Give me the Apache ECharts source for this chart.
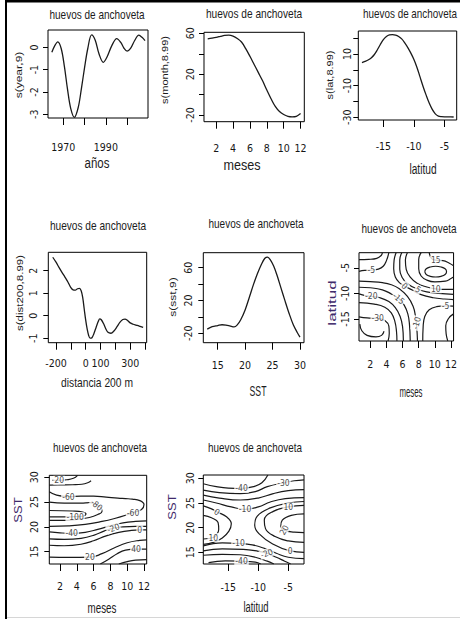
<!DOCTYPE html>
<html>
<head>
<meta charset="utf-8">
<script src="https://cdn.jsdelivr.net/npm/echarts@6/dist/echarts.min.js"></script>
<style>
  html, body { margin: 0; padding: 0; background: #fff; }
  #chart { width: 460px; height: 619px; }
</style>
</head>
<body>
<div id="chart"></div>
<script>
// ---------- smooth terms (GAM partial effects) ----------
const anios = [1964.6,1966,1967.4,1969,1970.5,1972,1973.5,1975.2,1977,1978.5,1980,1981.5,1983.3,1985,1986.8,1988.8,1990.6,1992.8,1995.1,1997,1998.6,2000,2001.6,2003.6,2005.5,2007,2008.4];
const sYear = [-0.22,0.08,0.25,-0.05,-0.85,-1.9,-2.75,-3.14,-2.7,-1.85,-0.9,-0.05,0.56,0.32,-0.3,-0.67,-0.42,0.08,0.39,0.22,-0.05,-0.17,-0.05,0.32,0.55,0.45,0.30];

const meses = [1,1.5,2,2.5,3,3.5,4,4.5,5,5.5,6,6.5,7,7.5,8,8.5,9,9.5,10,10.5,11,11.5,12];
const sMonth = [54.5,55.2,56,57,58,58.2,57.3,55,51.5,45,37.5,29.5,21.5,13.5,4.5,-4,-11.5,-16.5,-19.5,-21.2,-21.7,-21.2,-18.5];

const latitud = [-18.5,-18,-17.5,-17,-16.5,-16,-15.5,-15,-14.5,-14,-13.5,-13,-12.5,-12,-11.5,-11,-10.5,-10,-9.5,-9,-8.5,-8,-7.5,-7,-6.5,-6,-5.5,-5,-4.5,-4,-3.5];
const sLat = [4.5,5.3,6.2,7.5,9.5,12.5,16,19,21,22,22.2,21.9,21,19.5,17,14,10.5,6.5,1.5,-4.5,-10.5,-16,-21,-25,-27.8,-29.2,-29.6,-29.7,-29.7,-29.7,-29.8];

const dist200 = [-222,-200,-180,-160,-140,-120,-100,-85,-70,-55,-42,-30,-20,-10,0,10,20,30,42,55,70,85,95,105,120,135,150,170,190,210,230,250,265,280,300,320,340,360,387];
const sDist = [2.6,2.38,2.15,1.93,1.72,1.5,1.25,1.15,1.14,1.2,1.22,1.1,0.8,0.3,-0.2,-0.6,-0.88,-1.0,-0.98,-0.8,-0.52,-0.25,-0.14,-0.18,-0.35,-0.58,-0.74,-0.78,-0.68,-0.5,-0.3,-0.17,-0.15,-0.2,-0.32,-0.38,-0.42,-0.46,-0.52];

const sst = [13.1,14,15,15.8,16.5,17.2,18,18.6,19.2,20,20.8,21.5,22.2,23,23.6,24.1,24.6,25.2,25.8,26.5,27.2,28,28.8,29.5,30];
const sSst = [-15,-12,-10.6,-9.6,-10,-11,-12.3,-9.5,-3.5,8.5,24.5,39,52,64.5,71.5,73,69.5,62,51,36,21,4.5,-10,-19,-24.6];

// ---------- contour lines of the 2-D terms: level, path, label spots [x, y, angle] ----------
const contMesLat = [
  { lv: 0,   pts: [[0.6,-3.4],[1.8,-3.35],[2.8,-3.15],[3.35,-2.6],[3.5,-2.05]], lab: [] },
  { lv: -5,  pts: [[0.6,-5.7],[1.3,-5.5],[2.12,-5.45],[3.0,-5.25],[3.6,-4.7],[4.0,-3.6],[4.3,-2.05]], lab: [[2.12,-5.45,0]] },
  { lv: -10, pts: [[0.6,-7.6],[2.0,-7.7],[3.5,-7.9],[4.6,-8.3],[5.6,-9.1],[6.6,-10.6],[7.3,-12.5],[7.6,-14.5],[7.75,-16.5],[7.85,-19.3]], lab: [[7.72,-15.8,75]] },
  { lv: -15, pts: [[0.6,-8.8],[2.0,-8.9],[3.5,-9.3],[4.6,-10.1],[5.52,-11.0],[6.2,-12.3],[6.65,-14],[6.85,-16],[6.95,-19.3]], lab: [[5.52,-11.0,-40]] },
  { lv: -20, pts: [[0.6,-10.1],[1.4,-10.45],[2.12,-10.6],[3.2,-10.85],[4.3,-11.6],[5.1,-12.8],[5.7,-14.5],[6.0,-16.5],[6.1,-19.3]], lab: [[2.12,-10.6,0]] },
  { lv: -25, pts: [[0.6,-11.8],[2.5,-12.1],[3.8,-12.7],[4.6,-13.8],[5.05,-15.5],[5.25,-17.5],[5.3,-19.3]], lab: [] },
  { lv: -30, pts: [[0.6,-14.6],[1.6,-14.8],[2.92,-14.87],[3.8,-15.3],[4.3,-16.4],[4.35,-17.8],[4.2,-19.3]], lab: [[2.92,-14.87,0]] },
  { lv: -35, pts: [[0.7,-16.0],[0.95,-17.3],[1.6,-18.2],[2.7,-18.5],[3.4,-18.2],[3.7,-17.4]], lab: [] },
  { lv: 0,   pts: [[5.2,-2.05],[4.95,-3.5],[4.9,-5.2],[5.1,-6.8],[5.6,-7.9],[6.24,-8.55],[7.2,-9.35],[8.3,-10.25],[9.8,-10.85],[11.2,-11.1],[12.32,-11.2]], lab: [[6.24,-8.55,-45]] },
  { lv: 5,   pts: [[5.9,-2.05],[5.65,-3.5],[5.65,-5.3],[5.95,-6.9],[6.6,-8.1],[7.92,-9.2],[9.0,-9.7],[10.5,-10.0],[12.32,-10.2]], lab: [[7.92,-9.2,-30]] },
  { lv: 10,  pts: [[6.6,-2.05],[6.35,-3.5],[6.45,-5.3],[6.95,-6.8],[7.8,-8.0],[8.9,-8.7],[10.12,-9.1],[11.2,-9.2],[12.32,-9.2]], lab: [[10.12,-9.1,0]] },
  { lv: 15,  pts: [[8.3,-2.05],[8.0,-3.4],[8.0,-5.2],[8.3,-6.6],[9.0,-7.4],[10,-7.75],[11.3,-7.6],[12.0,-7.1],[12.32,-6.8]], lab: [] },
  { lv: 15,  pts: [[9.3,-2.05],[9.6,-3.2],[10.12,-3.5],[11.0,-3.6],[11.8,-4.1],[12.32,-4.6]], lab: [[10.12,-3.5,0]] },
  { lv: 20,  pts: [[8.75,-5.75],[8.93,-5.2],[9.43,-4.84],[10.1,-4.7],[10.77,-4.84],[11.27,-5.2],[11.45,-5.75],[11.27,-6.3],[10.77,-6.66],[10.1,-6.8],[9.43,-6.66],[8.93,-6.3],[8.75,-5.75]], lab: [] },
  { lv: -5,  pts: [[12.32,-12.5],[11.32,-12.45],[10.2,-12.6],[9.3,-13.2],[8.75,-14.5],[8.55,-16.5],[8.5,-19.3]], lab: [[11.32,-12.45,0]] },
  { lv: -10, pts: [[12.32,-14.0],[11.7,-14.9],[11.35,-16.3],[11.4,-17.9],[11.6,-19.3]], lab: [] }
];

const contMesSst = [
  { lv: 20,   pts: [[1.1,29.4],[1.9,29.4],[2.8,29.5],[3.6,29.8],[4.1,30.4]], lab: [[1.9,29.4,0]] },
  { lv: -40,  pts: [[0.73,28.4],[2.0,28.45],[3.5,28.5],[4.6,28.6],[5.3,28.9],[5.7,29.3]], lab: [] },
  { lv: -60,  pts: [[0.73,27.1],[1.6,26.4],[3.0,26.1],[4.5,26.2],[6.0,26.2],[7.5,26.0],[8.9,25.8],[9.8,25.7],[10.6,25.6],[11.5,25.3],[12.0,24.5],[11.7,23.5],[10.7,22.9],[9.9,22.4],[8.5,21.7],[7.0,21.1],[5.0,20.5],[3.0,20.2],[0.73,20.1]], lab: [[3.0,26.1,0],[10.7,22.9,0]] },
  { lv: -80,  pts: [[0.73,25.0],[2.5,24.8],[4.5,24.8],[5.6,24.9],[6.37,24.4],[6.9,23.8],[7.0,23.1],[6.5,22.5],[5.5,21.9],[4.0,21.5],[2.0,21.3],[0.73,21.3]], lab: [[6.37,24.4,-40]] },
  { lv: -100, pts: [[0.73,22.0],[2.5,22.0],[3.8,22.05],[4.8,22.2],[5.1,22.6],[4.7,23.0],[3.5,23.2],[0.73,23.3]], lab: [[3.8,22.05,0]] },
  { lv: -40,  pts: [[0.73,19.0],[2.0,18.8],[3.4,18.7],[5.0,18.9],[6.5,19.5],[8.0,20.2],[9.5,20.8],[11.0,21.1],[12.32,21.2]], lab: [[3.4,18.7,0]] },
  { lv: -20,  pts: [[0.73,17.6],[2.5,17.5],[4.5,17.7],[6.0,18.3],[7.3,19.2],[8.35,19.75],[9.5,20.0],[11.0,20.1],[12.32,20.1]], lab: [[8.35,19.75,20]] },
  { lv: 0,    pts: [[0.73,16.3],[2.5,16.2],[4.5,16.5],[6.0,17.2],[7.5,18.2],[9.0,18.9],[10.5,19.3],[11.5,19.4],[12.32,19.4]], lab: [[11.5,19.4,0]] },
  { lv: 20,   pts: [[0.73,13.9],[3.0,13.85],[5.57,13.9],[7.0,14.6],[8.5,15.8],[10.0,16.8],[11.5,17.3],[12.32,17.4]], lab: [[5.57,13.9,0]] },
  { lv: 40,   pts: [[6.8,12.52],[7.8,13.5],[8.8,14.6],[9.8,15.3],[11.05,15.5],[12.32,15.5]], lab: [[11.05,15.5,0]] },
  { lv: 60,   pts: [[9.0,12.52],[10.0,13.0],[11.0,13.3],[12.32,13.4]], lab: [] }
];

const contLatSst = [
  { lv: -40, pts: [[-19.17,28.9],[-17,28.3],[-15,28.0],[-12.8,27.95],[-10.8,28.3],[-9.4,29.1],[-8.4,30.67]], lab: [[-12.8,27.95,0]] },
  { lv: -30, pts: [[-19.17,27.6],[-16.5,27.1],[-13,26.9],[-10.5,27.3],[-8.5,28.3],[-5.8,29.1],[-4,29.5],[-2.38,29.7]], lab: [[-5.8,29.1,0]] },
  { lv: -20, pts: [[-19.17,26.6],[-16.5,26.0],[-13,25.6],[-10,26.0],[-7.5,26.9],[-5,27.5],[-2.38,27.7]], lab: [] },
  { lv: -10, pts: [[-19.17,25.6],[-17,25.0],[-14.5,24.2],[-12.2,23.7],[-10,24.2],[-8,25.2],[-5.5,25.9],[-2.38,26.1]], lab: [[-12.2,23.7,0]] },
  { lv: 0,   pts: [[-19.17,24.4],[-17.8,23.8],[-16.9,23.2],[-15.3,22.2],[-14.5,20.8],[-14.9,19.3],[-16,17.9],[-17.5,17.0],[-19.17,16.6]], lab: [[-16.9,23.2,-35]] },
  { lv: 10,  pts: [[-19.17,22.5],[-17.8,22.0],[-16.7,21.0],[-16.6,19.6],[-17.0,18.5],[-17.5,18.0],[-19.17,17.7]], lab: [[-17.5,18.0,0]] },
  { lv: 0,   pts: [[-2.38,25.3],[-5,25.0],[-8,24.0],[-10.2,22.3],[-10.6,20.5],[-9.9,18.8],[-7.6,16.7],[-4.7,15.3],[-2.38,15.0]], lab: [[-4.7,15.3,0]] },
  { lv: 10,  pts: [[-2.38,24.5],[-5,24.2],[-7.5,23.3],[-9,21.5],[-8.8,19.8],[-7.2,18.2],[-5,17.3],[-2.38,17.0]], lab: [[-5,24.2,0]] },
  { lv: 20,  pts: [[-2.38,22.8],[-4.5,22.5],[-6,21.5],[-6.25,20.3],[-5.7,19.5],[-4,19.1],[-2.38,19.0]], lab: [[-5.7,19.5,60]] },
  { lv: -10, pts: [[-19.17,16.3],[-16,16.9],[-13.3,16.8],[-11,16.5],[-9,15.8],[-7,14.8],[-5,14.0],[-2.38,13.7]], lab: [[-13.3,16.8,0]] },
  { lv: -20, pts: [[-19.17,15.3],[-16,15.7],[-12.5,15.6],[-10,15.2],[-8.6,14.8],[-7,14.0],[-5.6,13.2],[-4.6,12.63]], lab: [[-8.6,14.8,20]] },
  { lv: -30, pts: [[-19.17,14.4],[-16,14.6],[-13,14.5],[-10.5,14.0],[-8.5,13.2],[-7.4,12.63]], lab: [] },
  { lv: -40, pts: [[-18.3,12.9],[-15.5,13.25],[-12.8,13.2],[-10.5,13.0],[-9.6,12.63]], lab: [[-12.8,13.2,0]] }
];

// ---------- tick positions and printed tick labels ----------
const yearTicks = [1970,1980,1990,2000],       yearLabels = [1970,1990];
const sYearTicks = [0,-1,-2,-3];
const monthTicks = [2,4,6,8,10,12];
const sMonthTicks = [60,40,20,0,-20],          sMonthLabels = [60,20,-20];
const latTicks = [-15,-10,-5];
const sLatTicks = [20,10,0,-10,-20,-30],       sLatLabels = [10,-10,-30];
const distTicks = [-200,-100,0,100,200,300,400], distLabels = [-200,0,100,300];
const sDistTicks = [2,1,0,-1];
const sstTicks = [15,20,25,30];
const sSstTicks = [60,40,20,0,-20],            sSstLabels = [60,20,-20];
const latMapTicks = [-5,-10,-15];

// ---------- drawing ----------
const NARROW = "'Liberation Sans Narrow','Arial Narrow','DejaVu Sans Condensed','Liberation Sans',sans-serif";
const REG = "'Liberation Sans',Arial,sans-serif";
const INK = '#161616';
const PURPLE = '#3f2a6b';

// panel frames: [left, top, width, height], axis ranges, label margins
const panels = [
  { box: [48, 30, 100, 88],        x: [1962.8, 2009.8], y: [-3.17, 0.78], xt: yearTicks,  xl: yearLabels, yt: sYearTicks,  yl: sYearTicks,  xm: 23, ym: 9 },
  { box: [204, 32.3, 100.3, 89.4], x: [0.56, 12.44],    y: [-26.5, 61],   xt: monthTicks, xl: monthTicks, yt: sMonthTicks, yl: sMonthLabels, xm: 21, ym: 9 },
  { box: [358.3, 31, 98.4, 89],    x: [-19.1, -3.0],    y: [-31.7, 24.5], xt: latTicks,   xl: latTicks,   yt: sLatTicks,   yl: sLatLabels,  xm: 20, ym: 6 },
  { box: [48.3, 252.3, 98.4, 90.4],x: [-252, 411],      y: [-1.2, 2.82],  xt: distTicks,  xl: distLabels, yt: sDistTicks,  yl: sDistTicks,  xm: 15, ym: 10 },
  { box: [203.3, 252.7, 100.7, 90],x: [12.38, 30.73],   y: [-31.5, 78.3], xt: sstTicks,   xl: sstTicks,   yt: sSstTicks,   yl: sSstLabels,  xm: 17, ym: 10 },
  { box: [359, 252.7, 97.7, 88.3], x: [0.6, 12.32],     y: [-19.3, -2.05],xt: monthTicks, xl: monthTicks, yt: latMapTicks, yl: latMapTicks, xm: 17, ym: 9 },
  { box: [49.3, 475.3, 97.4, 88.7],x: [0.73, 12.32],    y: [12.52, 30.4], xt: monthTicks, xl: monthTicks, yt: sstTicks,    yl: sstTicks,    xm: 16, ym: 10 },
  { box: [203.3, 475, 100.7, 89],  x: [-19.17, -2.38],  y: [12.63, 30.67],xt: latTicks,   xl: latTicks,   yt: sstTicks,    yl: sstTicks,    xm: 17, ym: 8 }
];

const grids = panels.map(p => ({
  left: p.box[0], top: p.box[1], width: p.box[2], height: p.box[3],
  show: true, borderColor: '#000', borderWidth: 1, backgroundColor: 'transparent', containLabel: false
}));

const fmt = v => String(v);
const xAxes = panels.map((p, i) => ({
  type: 'value', gridIndex: i, min: p.x[0], max: p.x[1],
  axisLine: { show: false, onZero: false },
  splitLine: { show: false },
  axisTick: { show: true, inside: false, length: 7, customValues: p.xt, lineStyle: { color: '#000', width: 1 } },
  axisLabel: { show: true, customValues: p.xl, margin: p.xm, fontSize: 10.5, fontFamily: NARROW, color: INK, formatter: fmt }
}));
const yAxes = panels.map((p, i) => ({
  type: 'value', gridIndex: i, min: p.y[0], max: p.y[1],
  axisLine: { show: false, onZero: false },
  splitLine: { show: false },
  axisTick: { show: true, inside: false, length: 5, customValues: p.yt, lineStyle: { color: '#000', width: 1 } },
  axisLabel: { show: true, rotate: 90, customValues: p.yl, margin: p.ym, fontSize: 10.5, fontFamily: NARROW, color: INK, formatter: fmt }
}));

const series = [];
function curve(gi, xs, ys) {
  series.push({
    type: 'line', xAxisIndex: gi, yAxisIndex: gi, z: 2,
    data: xs.map((x, k) => [x, ys[k]]),
    smooth: 0.35, symbol: 'none', clip: true, silent: true,
    lineStyle: { color: '#1a1a1a', width: 1.3 }
  });
}
function contours(gi, list) {
  const labels = [];
  list.forEach(c => {
    series.push({
      type: 'line', xAxisIndex: gi, yAxisIndex: gi, z: 2,
      data: c.pts, smooth: 0.45, symbol: 'none', clip: true, silent: true,
      lineStyle: { color: '#1a1a1a', width: 1.2 }
    });
    c.lab.forEach(l => labels.push({ value: [l[0], l[1]], name: String(c.lv), label: { rotate: l[2] } }));
  });
  // level labels sit on a white patch that breaks the line, as contour() does
  series.push({
    type: 'scatter', xAxisIndex: gi, yAxisIndex: gi, z: 5, silent: true,
    symbol: 'circle', symbolSize: 1, itemStyle: { color: 'rgba(255,255,255,0)' },
    data: labels,
    label: { show: true, position: 'inside', formatter: '{b}', fontSize: 8.5, fontFamily: NARROW,
             color: INK, backgroundColor: '#fff', padding: [0, 1, 0, 1] }
  });
}

curve(0, anios, sYear);
curve(1, meses, sMonth);
curve(2, latitud, sLat);
curve(3, dist200, sDist);
curve(4, sst, sSst);
contours(5, contMesLat);
contours(6, contMesSst);
contours(7, contLatSst);

// titles and axis captions
function txt(x, y, s, size, o) {
  o = o || {};
  return {
    type: 'text', x: x, y: y, rotation: o.rot || 0, scaleX: o.sx || 1, scaleY: o.sy || 1, silent: true, z: 10,
    style: { text: s, fontSize: size, fontFamily: REG, fill: o.color || '#1c1c1c',
             align: 'center', verticalAlign: 'middle', textAlign: 'center', textVerticalAlign: 'middle' }
  };
}
const TITLE = 'huevos de anchoveta';
const V = Math.PI / 2;
const graphics = [
  // page frame
  { type: 'rect', shape: { x: 5, y: 0, width: 455, height: 2.5 }, style: { fill: '#000' }, silent: true },
  { type: 'rect', shape: { x: 5, y: 0, width: 2, height: 619 }, style: { fill: '#000' }, silent: true },
  { type: 'line', shape: { x1: 7, y1: 617.5, x2: 460, y2: 617.5 }, style: { stroke: '#d6d6d6', lineWidth: 1 }, silent: true },

  txt(97, 14, TITLE, 13, { sx: 0.77 }),
  txt(254, 13, TITLE, 13, { sx: 0.78 }),
  txt(410, 13, TITLE, 13, { sx: 0.76 }),
  txt(98, 225, TITLE, 13, { sx: 0.78 }),
  txt(256, 223, TITLE, 13, { sx: 0.77 }),
  txt(409, 228, TITLE, 13, { sx: 0.77 }),
  txt(100, 447, TITLE, 13, { sx: 0.76 }),
  txt(255, 447, TITLE, 13, { sx: 0.76 }),

  txt(97, 163, 'años', 14, { sx: 0.82 }),
  txt(242, 165, 'meses', 14, { sx: 0.9 }),
  txt(423, 169, 'latitud', 15, { sx: 0.68 }),
  txt(97, 382, 'distancia 200 m', 13, { sx: 0.79 }),
  txt(258, 391, 'SST', 15, { sx: 0.58 }),
  txt(411, 392, 'meses', 14, { sx: 0.56 }),
  txt(102, 608, 'meses', 14, { sx: 0.7 }),
  txt(256, 607, 'latitud', 15, { sx: 0.63 }),

  txt(18, 75, 's(year,9)', 12, { rot: V, sy: 0.8 }),
  txt(165, 70, 's(month,8.99)', 11, { rot: V, sy: 0.8 }),
  txt(330, 75, 's(lat,8.99)', 11, { rot: V, sy: 0.8 }),
  txt(20, 293, 's(dist200,8.99)', 11.5, { rot: V, sy: 0.8 }),
  txt(172, 297, 's(sst,9)', 12, { rot: V, sy: 0.8 }),
  txt(332, 303, 'latitud', 17, { rot: V, sy: 0.6, color: PURPLE }),
  txt(18, 510, 'SST', 13, { rot: V, sy: 0.9, color: PURPLE }),
  txt(172, 507, 'SST', 13, { rot: V, sy: 0.9, color: PURPLE })
];

const chart = echarts.init(document.getElementById('chart'), null, { renderer: 'svg' });
chart.setOption({
  backgroundColor: '#fff',
  animation: false,
  grid: grids,
  xAxis: xAxes,
  yAxis: yAxes,
  series: series,
  graphic: graphics
});
</script>
</body>
</html>
